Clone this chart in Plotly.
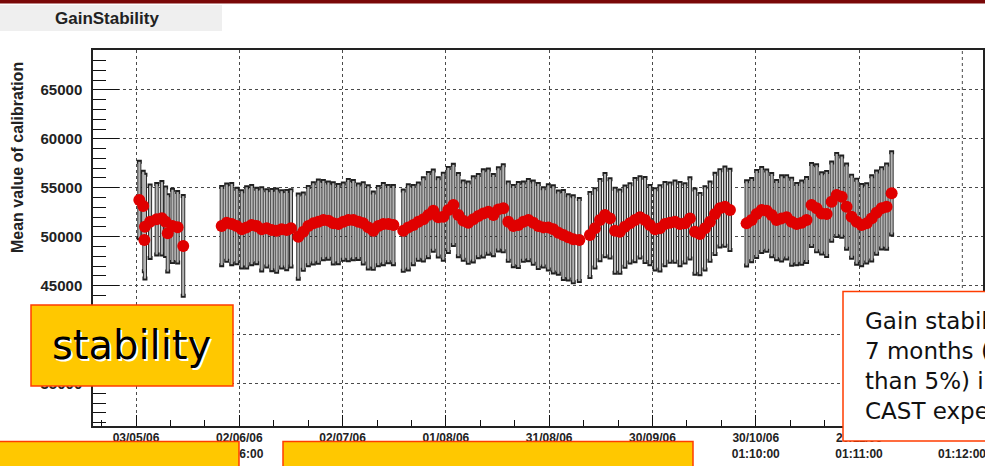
import plotly.graph_objects as go

W, H = 985, 466

# ---- data ----
dates = [
    # early May
    "2006-05-03 23:00", "2006-05-05 02:00", "2006-05-05 10:00", "2006-05-05 14:00",
    "2006-05-07 02:00", "2006-05-09 00:00", "2006-05-10 12:00", "2006-05-11 14:00",
    "2006-05-12 05:00", "2006-05-13 14:00", "2006-05-15 02:00", "2006-05-16 17:00",
    # end May / June
    "2006-05-27 21:00", "2006-05-29 08:00", "2006-05-30 19:00", "2006-06-01 06:00",
    "2006-06-02 17:00", "2006-06-04 03:00", "2006-06-05 14:00", "2006-06-07 01:00",
    "2006-06-08 12:00", "2006-06-09 23:00", "2006-06-11 10:00", "2006-06-12 20:00",
    "2006-06-14 07:00", "2006-06-15 18:00", "2006-06-17 00:00",
    # end June -> early September
    "2006-06-19 03:00", "2006-06-20 14:00", "2006-06-22 01:00", "2006-06-23 12:00",
    "2006-06-24 23:00", "2006-06-26 10:00", "2006-06-27 21:00", "2006-06-29 07:00",
    "2006-06-30 18:00", "2006-07-02 05:00", "2006-07-03 16:00", "2006-07-05 03:00",
    "2006-07-06 14:00", "2006-07-08 00:00", "2006-07-09 11:00", "2006-07-10 22:00",
    "2006-07-12 09:00", "2006-07-13 20:00", "2006-07-15 07:00", "2006-07-16 18:00",
    "2006-07-19 15:00", "2006-07-21 02:00", "2006-07-22 13:00", "2006-07-24 00:00",
    "2006-07-25 11:00", "2006-07-26 22:00", "2006-07-28 08:00", "2006-07-29 19:00",
    "2006-07-31 06:00", "2006-08-01 17:00", "2006-08-03 04:00", "2006-08-04 15:00",
    "2006-08-06 01:00", "2006-08-07 12:00", "2006-08-08 23:00", "2006-08-10 10:00",
    "2006-08-11 21:00", "2006-08-13 08:00", "2006-08-14 19:00", "2006-08-16 06:00",
    "2006-08-17 16:00", "2006-08-19 03:00", "2006-08-20 14:00", "2006-08-22 01:00",
    "2006-08-23 12:00", "2006-08-24 23:00", "2006-08-26 09:00", "2006-08-27 20:00",
    "2006-08-29 07:00", "2006-08-30 18:00", "2006-09-01 05:00", "2006-09-02 16:00",
    "2006-09-04 03:00", "2006-09-05 13:00", "2006-09-07 00:00", "2006-09-08 18:00",
    # September -> October
    "2006-09-11 20:00", "2006-09-13 07:00", "2006-09-14 18:00", "2006-09-16 05:00",
    "2006-09-17 16:00", "2006-09-19 03:00", "2006-09-20 13:00", "2006-09-22 00:00",
    "2006-09-23 11:00", "2006-09-24 22:00", "2006-09-26 09:00", "2006-09-27 20:00",
    "2006-09-29 06:00", "2006-09-30 18:00", "2006-10-02 04:00", "2006-10-03 15:00",
    "2006-10-05 02:00", "2006-10-06 13:00", "2006-10-08 00:00", "2006-10-09 11:00",
    "2006-10-10 21:00", "2006-10-12 08:00", "2006-10-13 19:00", "2006-10-15 06:00",
    "2006-10-16 17:00", "2006-10-18 04:00", "2006-10-19 14:00", "2006-10-21 01:00",
    "2006-10-22 12:00",
    # end October -> December
    "2006-10-27 08:00", "2006-10-28 19:00", "2006-10-30 06:00", "2006-10-31 17:00",
    "2006-11-02 04:00", "2006-11-03 15:00", "2006-11-05 01:00", "2006-11-06 12:00",
    "2006-11-07 23:00", "2006-11-09 10:00", "2006-11-10 21:00", "2006-11-12 08:00",
    "2006-11-13 18:00", "2006-11-15 05:00", "2006-11-16 16:00", "2006-11-18 03:00",
    "2006-11-19 14:00", "2006-11-21 01:00", "2006-11-22 12:00", "2006-11-23 23:00",
    "2006-11-25 09:00", "2006-11-26 20:00", "2006-11-28 07:00", "2006-11-29 18:00",
    "2006-12-01 05:00", "2006-12-02 16:00", "2006-12-04 02:00", "2006-12-05 13:00",
    "2006-12-07 00:00", "2006-12-08 11:00",
]

mean_values = [
    53750, 53130, 49660, 51020, 51530, 51780, 51880, 51530, 50340, 51100, 50960, 49050,
    51090, 51430, 51290, 51090, 50750, 50950, 51190, 51090, 50750, 50850, 50680, 50610,
    50750, 50680, 50850,
    50000, 50510, 51090, 51360, 51530, 51700, 51640, 51360,
    51290, 51530, 51700, 51700, 51530, 51360, 50950, 50610, 51090, 51290, 51290, 51190,
    50610, 50950, 51190, 51530, 51770, 52210, 52660, 51980, 52040, 52730, 53240, 52210,
    51640, 51430, 51770, 52110, 52380, 52560, 52210, 52790, 52900, 51530, 51090, 51190,
    51530, 51700, 51430, 51090, 50950, 50950, 50750, 50410, 50170, 49930, 49730, 49660,
    50170, 50850, 51700, 52210, 51870, 50610, 50510, 51020, 51360, 51700, 51980, 51700,
    51190, 50750, 50850, 51290, 51430, 51530, 51290, 51360, 51870, 50510, 50270, 50850,
    51530, 52320, 52900, 53070, 52730,
    51360, 51700, 52320, 52730, 52660, 52210, 51700, 51870, 51980, 51530, 51290, 51430,
    51700, 53240, 52900, 52380, 52320, 53580, 54260, 54090, 53070, 52040, 51530, 51190,
    51360, 51870, 52450, 52900, 53070, 54430,
]

errors = [
    3900, 3500, 3200, 5300, 3700, 3600, 3700, 3500, 3900, 3700, 3600, 5100,
    4000, 3900, 4100, 3800, 3900, 4100, 4000, 3800, 4200, 3900, 4100, 4200,
    3900, 4000, 3900,
    4300, 3900, 4000, 4100, 4200, 4000, 3900, 4100,
    4000, 3900, 4100, 4000, 3800, 4100, 4200, 3900, 4000, 4100, 3900, 4000,
    4100, 4300, 4000, 3900, 4200, 4300, 4100, 4000, 4400, 4300, 4100, 4200,
    4000, 4100, 4300, 4200, 4400, 4300, 4100, 4200, 4400, 4000, 4100, 4300,
    4000, 4100, 4200, 4300, 4000, 4300, 4400, 4200, 4500, 4300, 4400, 4200,
    4300, 4000, 4100, 4200, 4000, 4300, 4200, 4100, 4000, 4200, 4100, 4300,
    4000, 4100, 4300, 4200, 4000, 4100, 4200, 4000, 4100, 4300, 4100, 4200,
    4000, 4100, 3900, 4000, 4100,
    4300, 4200, 4400, 4300, 4100, 4200, 4000, 4300, 4200, 4400, 4100, 4200,
    4300, 4200, 4400, 4100, 4300, 4000, 4200, 4100, 4300, 4200, 4300, 4100,
    4000, 4300, 4200, 4100, 4300, 4200,
]

tick_dates = ["2006-05-03", "2006-06-02", "2006-07-02", "2006-08-01", "2006-08-31",
              "2006-09-30", "2006-10-30", "2006-11-29", "2006-12-29"]
tick_labels = ["03/05/06<br>01:05:00", "02/06/06<br>01:06:00", "02/07/06<br>01:07:00",
               "01/08/06<br>01:08:00", "31/08/06<br>01:08:00", "30/09/06<br>01:09:00",
               "30/10/06<br>01:10:00", "29/11/06<br>01:11:00", "29/12/06<br>01:12:00"]
y_ticks = [35000, 40000, 45000, 50000, 55000, 60000, 65000]
y_tick_labels = [str(v) for v in y_ticks]

title_text = "GainStability"
y_title = "Mean value of calibration"
badge_text = "stability"
note_text = "Gain stability over<br>7 months (better<br>than 5%) in the<br>CAST experiment"


def px(x):
    return x / W


def py(y):
    return 1 - y / H


fig = go.Figure()

# error bars: dark outline then grey fill
fig.add_trace(go.Scatter(
    x=dates, y=mean_values, mode="markers",
    marker=dict(size=1, color="rgba(0,0,0,0)"),
    error_y=dict(type="data", array=errors, visible=True, color="#202020",
                 thickness=4, width=2.5),
    hoverinfo="skip", showlegend=False))
fig.add_trace(go.Scatter(
    x=dates, y=mean_values, mode="markers",
    marker=dict(size=1, color="rgba(0,0,0,0)"),
    error_y=dict(type="data", array=errors, visible=True, color="#b4b4b4",
                 thickness=2.2, width=0),
    hoverinfo="skip", showlegend=False))
# red markers
fig.add_trace(go.Scatter(
    x=dates, y=mean_values, mode="markers",
    marker=dict(size=12, color="#e00000", line=dict(width=0)),
    showlegend=False))

grid_col = "#4a4a4a"
tick_font = dict(family="Liberation Sans", size=12, color="#222", weight="bold")
fig.update_layout(
    width=W, height=H,
    margin=dict(l=0, r=0, t=0, b=0),
    paper_bgcolor="white", plot_bgcolor="white",
    showlegend=False,
    xaxis=dict(
        type="date",
        domain=[px(93), px(983)],
        range=["2006-04-20 12:00", "2007-01-04 00:00"],
        tickmode="array", tickvals=tick_dates[:-1], ticktext=tick_labels[:-1],
        ticks="inside", ticklen=11, tickwidth=1.2, tickcolor="#111",
        tickfont=tick_font,
        showgrid=True, gridcolor=grid_col, griddash="dot", gridwidth=1,
        showline=True, linecolor="#222", linewidth=1.5, mirror=True,
        zeroline=False,
        minor=dict(tickmode="linear", tick0="2006-05-03", dtick=864000000,
                   ticks="inside", ticklen=6, tickcolor="#111", showgrid=False),
    ),
    yaxis=dict(
        domain=[py(426), py(50)],
        range=[30650, 69080],
        tickmode="array", tickvals=y_ticks, ticktext=y_tick_labels,
        ticks="inside", ticklen=26, tickwidth=1.2, tickcolor="#111",
        tickfont=dict(family="Liberation Sans", size=15, color="#222", weight="bold"),
        ticklabelstandoff=6,
        showgrid=True, gridcolor=grid_col, griddash="dot", gridwidth=1,
        showline=True, linecolor="#222", linewidth=1.5, mirror=True,
        zeroline=False,
        minor=dict(tickmode="linear", tick0=0, dtick=1000,
                   ticks="inside", ticklen=13, tickcolor="#111", showgrid=False),
    ),
)

# the last major tick (its label runs past the slide edge): tick + grid via the axis scale
fig.add_shape(type="line", xref="x", yref="paper", x0=tick_dates[-1], x1=tick_dates[-1],
              y0=py(426), y1=py(50), line=dict(color=grid_col, width=1, dash="dot"),
              layer="below")
fig.add_shape(type="line", xref="x", yref="paper", x0=tick_dates[-1], x1=tick_dates[-1],
              y0=py(426), y1=py(415), line=dict(color="#111", width=1.2))

yellow = "#ffc800"
edge = "#ff3c00"
boxes = [
    # dark red band on top of the slide
    dict(type="rect", xref="paper", yref="paper", x0=0, x1=1, y0=py(3.5), y1=1.01,
         fillcolor="#7a0808", line=dict(width=0)),
    # title pad
    dict(type="rect", xref="paper", yref="paper", x0=-0.01, x1=px(222), y0=py(31), y1=py(5),
         fillcolor="#efefef", line=dict(width=0)),
    # "stability" badge
    dict(type="rect", xref="paper", yref="paper", x0=px(31), x1=px(233), y0=py(386), y1=py(305),
         fillcolor=yellow, line=dict(color=edge, width=1.5)),
    # bottom boxes
    dict(type="rect", xref="paper", yref="paper", x0=px(-5), x1=px(239), y0=py(475), y1=py(441.5),
         fillcolor=yellow, line=dict(color=edge, width=1.5)),
    dict(type="rect", xref="paper", yref="paper", x0=px(283), x1=px(693), y0=py(475), y1=py(441.5),
         fillcolor=yellow, line=dict(color=edge, width=1.5)),
    # note box (white, red edge, runs off the right edge)
    dict(type="rect", xref="paper", yref="paper", x0=px(843), x1=px(1010), y0=py(441), y1=py(291.5),
         fillcolor="white", line=dict(color=edge, width=1.5)),
]
for b in boxes:
    fig.add_shape(**b)

# only the time line of the last tick label shows below the note box
last_label_visible = tick_labels[-1].split("<br>")[-1]

annotations = [
    dict(text=last_label_visible, x=tick_dates[-1], y=py(445), xref="x", yref="paper",
         showarrow=False, xanchor="center", yanchor="top", font=tick_font),
    dict(text=title_text, x=px(107), y=py(18), xref="paper", yref="paper",
         showarrow=False, xanchor="center", yanchor="middle",
         font=dict(family="Liberation Sans", size=17, color="#222", weight="bold")),
    dict(text=y_title, x=px(18), y=py(158), xref="paper", yref="paper",
         showarrow=False, xanchor="center", yanchor="middle", textangle=-90,
         font=dict(family="Liberation Sans", size=16, color="#222", weight="bold")),
    dict(text=badge_text, x=px(131), y=py(345), xref="paper", yref="paper",
         showarrow=False, xanchor="center", yanchor="middle",
         font=dict(family="DejaVu Sans", size=40, color="#000",
                   shadow="2px 2px 0px #ffffff")),
    dict(text=note_text, x=px(863), y=py(366), xref="paper", yref="paper",
         showarrow=False, xanchor="left", yanchor="middle", align="left",
         font=dict(family="DejaVu Sans", size=23, color="#111")),
]
fig.update_layout(annotations=annotations)

fig.write_html("out.html")
